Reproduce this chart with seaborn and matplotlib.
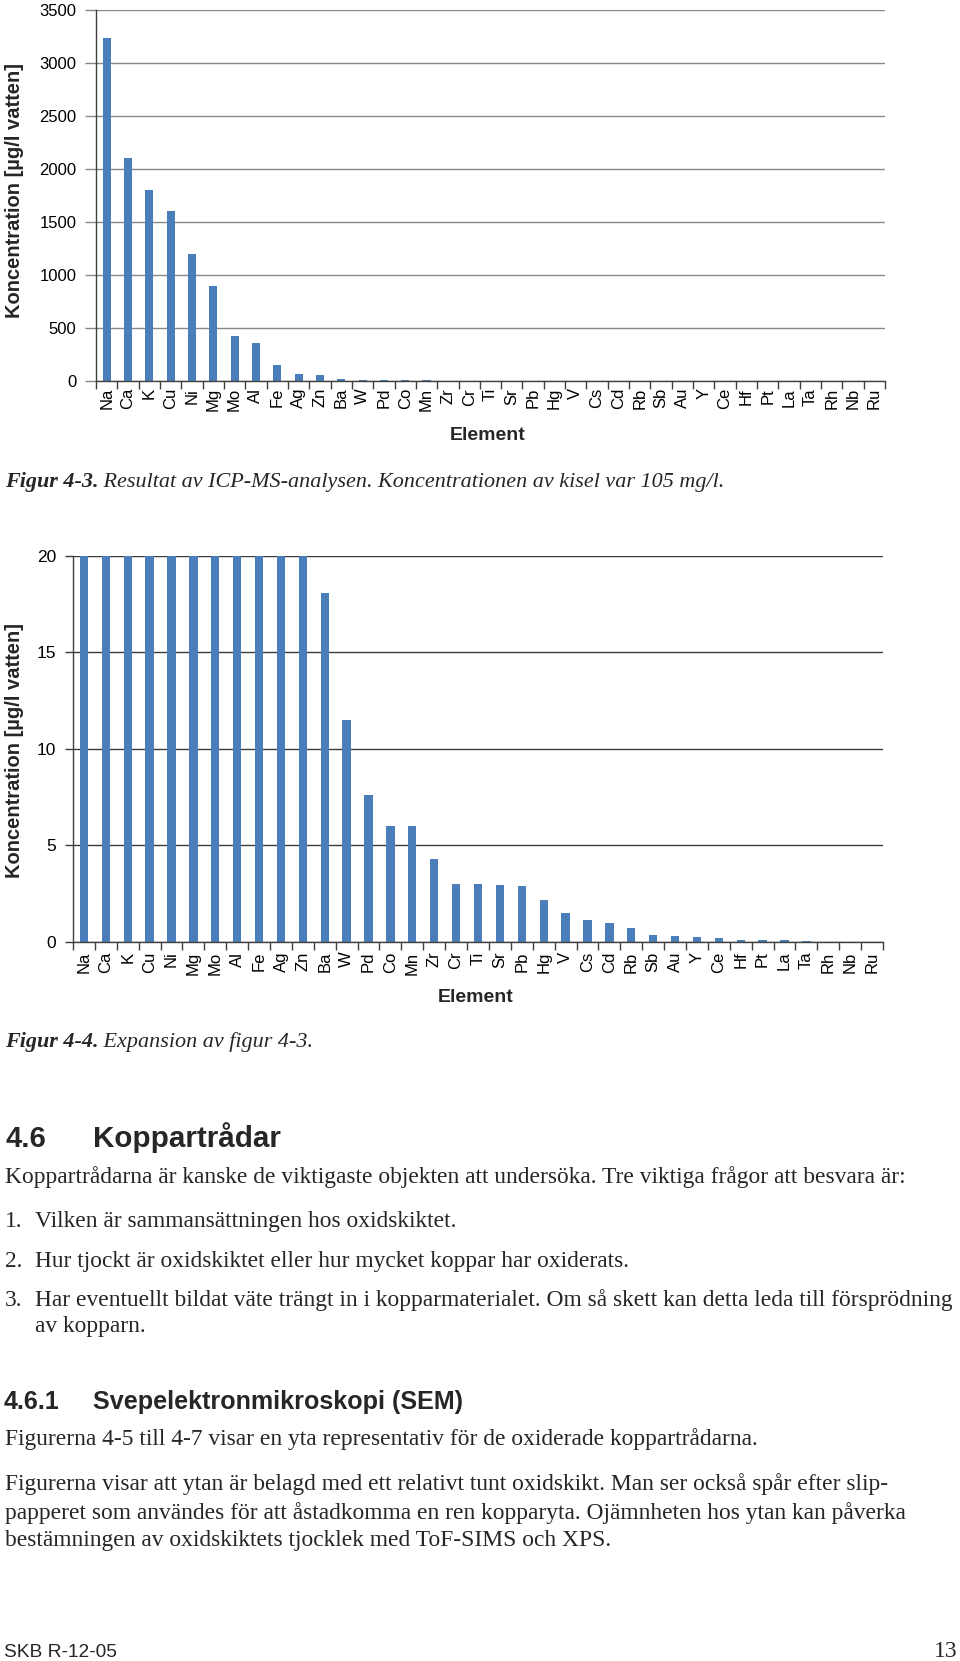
import numpy as np
import pandas as pd
import matplotlib
matplotlib.use("Agg")
import matplotlib.pyplot as plt
import seaborn as sns

# ---------------- data ----------------
elements = ["Na", "Ca", "K", "Cu", "Ni", "Mg", "Mo", "Al", "Fe", "Ag", "Zn", "Ba",
            "W", "Pd", "Co", "Mn", "Zr", "Cr", "Ti", "Sr", "Pb", "Hg", "V", "Cs",
            "Cd", "Rb", "Sb", "Au", "Y", "Ce", "Hf", "Pt", "La", "Ta", "Rh", "Nb", "Ru"]
concentration = [3240, 2100, 1800, 1600, 1200, 900, 420, 360, 150, 65, 55, 18.1,
                 11.5, 7.6, 6.0, 6.0, 4.3, 3.0, 3.0, 2.95, 2.88, 2.2, 1.5, 1.12,
                 1.0, 0.7, 0.38, 0.29, 0.24, 0.19, 0.1, 0.1, 0.1, 0.05, 0.0, 0.0, 0.0]
top_yticks = [0, 500, 1000, 1500, 2000, 2500, 3000, 3500]
zoom_yticks = [0, 5, 10, 15, 20]
ylabel = "Koncentration [µg/l vatten]"
xlabel = "Element"

caption1 = ("Figur 4-3.", " Resultat av ICP-MS-analysen. Koncentrationen av kisel var 105 mg/l.")
caption2 = ("Figur 4-4.", " Expansion av figur 4-3.")
heading1 = ("4.6", "Koppartrådar")
heading2 = ("4.6.1", "Svepelektronmikroskopi (SEM)")
para1 = "Koppartrådarna är kanske de viktigaste objekten att undersöka. Tre viktiga frågor att besvara är:"
items = [("1.", "Vilken är sammansättningen hos oxidskiktet."),
         ("2.", "Hur tjockt är oxidskiktet eller hur mycket koppar har oxiderats."),
         ("3.", "Har eventuellt bildat väte trängt in i kopparmaterialet. Om så skett kan detta leda till försprödning"),
         ("", "av kopparn.")]
para2 = "Figurerna 4-5 till 4-7 visar en yta representativ för de oxiderade koppartrådarna."
para3 = ["Figurerna visar att ytan är belagd med ett relativt tunt oxidskikt. Man ser också spår efter slip-",
         "papperet som användes för att åstadkomma en ren kopparyta. Ojämnheten hos ytan kan påverka",
         "bestämningen av oxidskiktets tjocklek med ToF-SIMS och XPS."]
footer_left = "SKB R-12-05"
footer_right = "13"

# ---------------- setup ----------------
sns.set_theme(style="white")
plt.rcParams['font.family'] = ['Liberation Sans', 'DejaVu Sans']

W, H = 960, 1661
fig = plt.figure(figsize=(W / 100, H / 100), dpi=100)
renderer = fig.canvas.get_renderer()

df = pd.DataFrame({"Element": elements, "Konc": concentration})
BAR = "#4A7EBB"


def px_axes(l, t, r, b):
    return fig.add_axes([l / W, 1 - b / H, (r - l) / W, (b - t) / H])


def draw_chart(ax, ticks, gridcolor, ytick_len, xlab_pad):
    sns.barplot(data=df, x="Element", y="Konc", color=BAR, saturation=1,
                width=0.38, ax=ax, errorbar=None, linewidth=0, edgecolor=BAR)
    ax.set_ylim(ticks[0], ticks[-1])
    ax.set_xlim(-0.5, len(elements) - 0.5)
    ax.set_yticks(ticks)
    ax.set_yticklabels([str(t) for t in ticks])
    ax.set_axisbelow(True)
    ax.yaxis.grid(True, color=gridcolor, linewidth=1.0)
    ax.xaxis.grid(False)
    for s in ["top", "right"]:
        ax.spines[s].set_visible(False)
    for s in ["left", "bottom"]:
        ax.spines[s].set_color("#404040")
        ax.spines[s].set_linewidth(1.0)
    ax.set_xticks(np.arange(len(elements)))
    ax.set_xticklabels(elements, rotation=90)
    ax.set_xticks(np.arange(-0.5, len(elements), 1), minor=True)
    ax.tick_params(axis="x", which="major", length=0, pad=xlab_pad, labelsize=12,
                   colors="black")
    ax.tick_params(axis="x", which="minor", bottom=True, length=6, width=1,
                   color="#404040", direction="out")
    ax.tick_params(axis="y", which="major", left=True, length=ytick_len, width=1,
                   color=gridcolor, pad=6, labelsize=12, labelcolor="black")
    ax.set_xlabel("")
    ax.set_ylabel("")


ax1 = px_axes(96, 10, 885, 381)
draw_chart(ax1, top_yticks, "#888888", 8, 5)
fig.text(15 / W, 1 - 191 / H, ylabel, rotation=90, ha="center", va="center",
         fontsize=14.5, fontweight="bold")
fig.text(488 / W, 1 - 435 / H, xlabel, ha="center", va="center",
         fontsize=14, fontweight="bold")

ax2 = px_axes(73, 556, 883, 942)
draw_chart(ax2, zoom_yticks, "#3a3a3a", 6, 7)
ax2.tick_params(axis="y", labelsize=12.5)
fig.text(15 / W, 1 - 750 / H, ylabel, rotation=90, ha="center", va="center",
         fontsize=14.5, fontweight="bold")
fig.text(476 / W, 1 - 998 / H, xlabel, ha="center", va="center",
         fontsize=14, fontweight="bold")

# ---------------- text ----------------
SERIF = ["Liberation Serif", "DejaVu Serif"]
BASE = 6  # offset from visual line centre to baseline (px)


def put(x, y, s, **kw):
    return fig.text(x / W, 1 - (y + BASE) / H, s, va="baseline", **kw)


def width(t):
    return t.get_window_extent(renderer).width


def fit(t, target):
    t.set_fontsize(t.get_fontsize() * target / width(t))
    return t


# body font size fitted to the width of the first paragraph line
tmp = put(5, 1177, para1, family=SERIF, fontsize=16)
fit(tmp, 904)
body_fs = tmp.get_fontsize()


def caption(y, parts, end_x):
    a = put(5, y, parts[0], family=SERIF, fontsize=16, fontweight="bold", style="italic")
    b = put(5, y, parts[1], family=SERIF, fontsize=16, style="italic")
    tot = width(a) + width(b)
    fs = 16 * (end_x - 5) / tot
    a.set_fontsize(fs)
    b.set_fontsize(fs)
    b.set_x((5 + width(a)) / W)


caption(481, caption1, 726)
caption(1041, caption2, 314)

put(5, 1141, heading1[0], fontsize=21, fontweight="bold")
h = put(93, 1141, heading1[1], fontsize=21, fontweight="bold")
fit(h, 188)

item_y = [1221, 1261, 1300, 1326]
for (num, txt), y in zip(items, item_y):
    if num:
        put(5, y, num, family=SERIF, fontsize=body_fs)
    put(35, y, txt, family=SERIF, fontsize=body_fs)

put(4, 1403, heading2[0], fontsize=18, fontweight="bold")
h2 = put(93, 1403, heading2[1], fontsize=18, fontweight="bold")
fit(h2, 370)

put(5, 1439, para2, family=SERIF, fontsize=body_fs)
for s, y in zip(para3, [1484, 1513, 1540]):
    put(5, y, s, family=SERIF, fontsize=body_fs)

f = put(4, 1651, footer_left, fontsize=14)
fit(f, 113)
put(958, 1651, footer_right, family=SERIF, fontsize=17, ha="right")

fig.savefig("out.png", dpi=100)
